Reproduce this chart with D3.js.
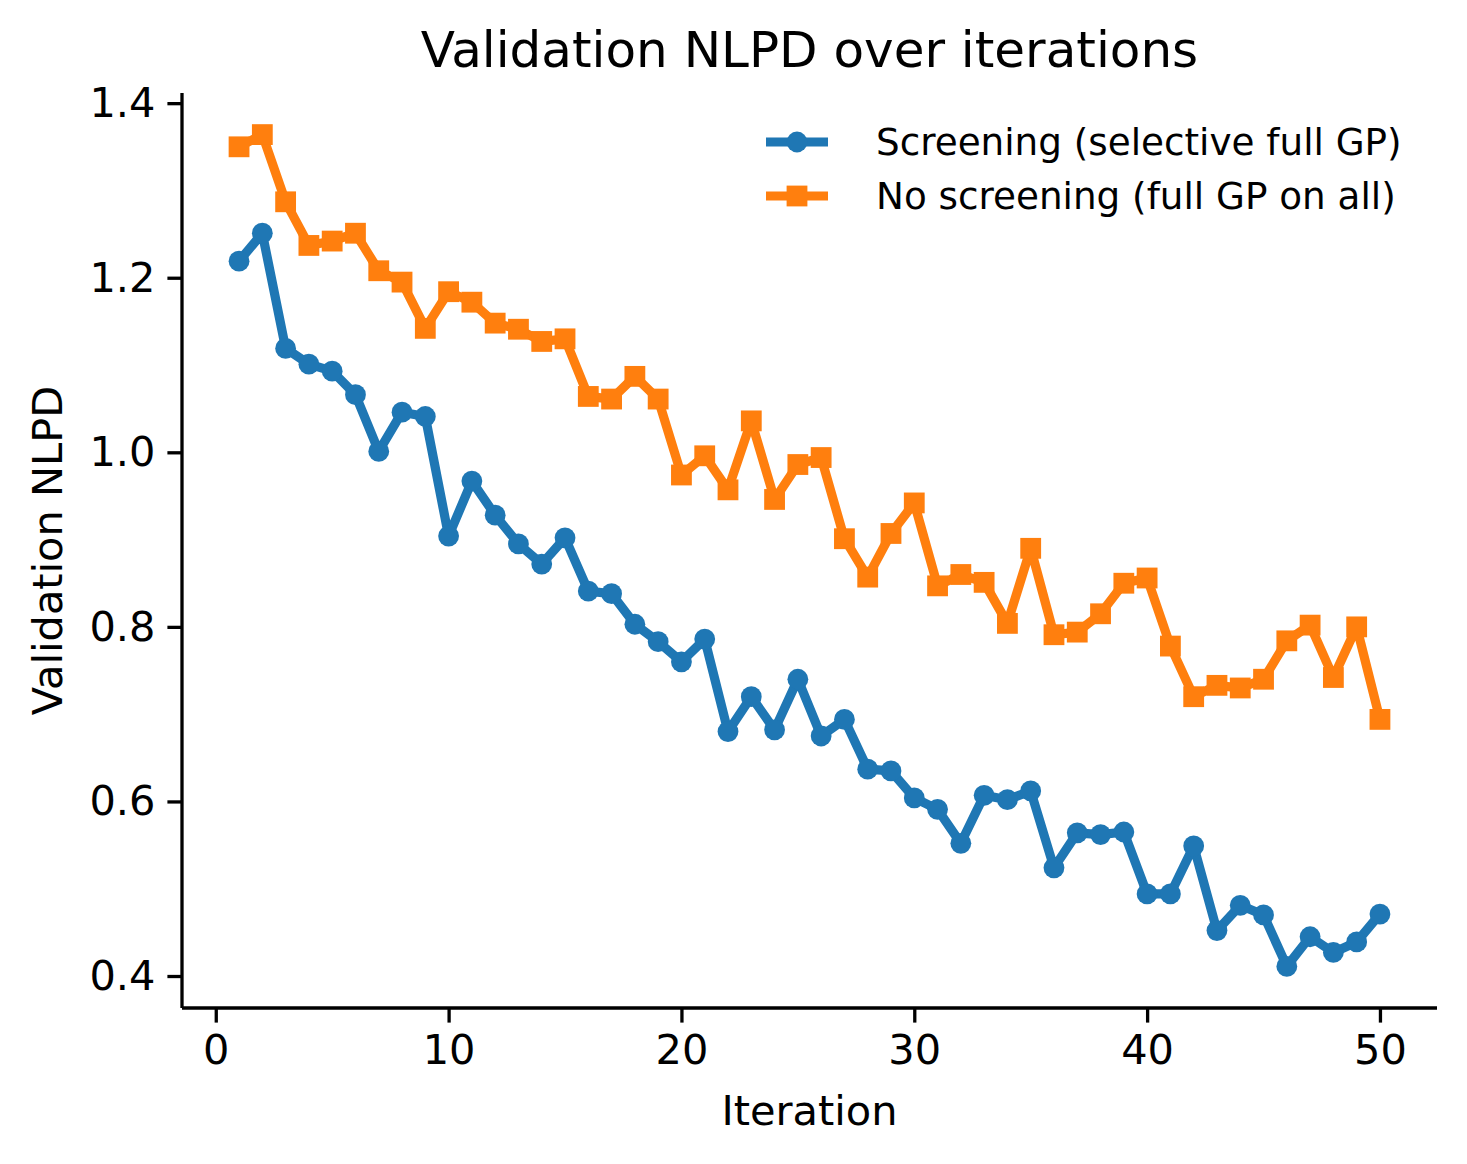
<!DOCTYPE html>
<html>
<head>
<meta charset="utf-8">
<script src="https://cdn.jsdelivr.net/npm/d3@7"></script>
<style>
	body { margin: 0; background: #fff; }
	svg text { font-family: 'DejaVu Sans', sans-serif; fill: #000; }
</style>
</head>
<body>
<div id="graph"></div>
<script>
const iterations = d3.range(1, 51);

const screening = [
	1.219, 1.251, 1.119, 1.101, 1.093, 1.066, 1.001, 1.046, 1.041, 0.904,
	0.967, 0.928, 0.895, 0.872, 0.902, 0.841, 0.838, 0.803, 0.783, 0.760,
	0.786, 0.680, 0.720, 0.682, 0.740, 0.675, 0.694, 0.637, 0.635, 0.604,
	0.591, 0.552, 0.607, 0.602, 0.612, 0.524, 0.564, 0.562, 0.565, 0.494,
	0.494, 0.549, 0.452, 0.481, 0.470, 0.411, 0.445, 0.427, 0.439, 0.471
];

const no_screening = [
	1.350, 1.364, 1.287, 1.237, 1.242, 1.251, 1.208, 1.195, 1.142, 1.184,
	1.172, 1.148, 1.141, 1.127, 1.130, 1.064, 1.061, 1.087, 1.061, 0.974,
	0.996, 0.957, 1.036, 0.946, 0.986, 0.994, 0.901, 0.857, 0.907, 0.942,
	0.847, 0.860, 0.851, 0.804, 0.890, 0.791, 0.794, 0.815, 0.850, 0.856,
	0.778, 0.720, 0.733, 0.730, 0.740, 0.784, 0.802, 0.742, 0.800, 0.694
];

const x_ticks = [0, 10, 20, 30, 40, 50];
const y_ticks = [0.4, 0.6, 0.8, 1.0, 1.2, 1.4];

const series = [
	{ label: 'Screening (selective full GP)', values: screening, color: '#1f77b4', marker: 'circle' },
	{ label: 'No screening (full GP on all)', values: no_screening, color: '#ff7f0e', marker: 'square' }
];

const width = 1467;
const height = 1164;
const margin = { left: 182, right: 30, top: 93, bottom: 156 };

// matplotlib-style 5% margins around the data
const pad = (lo, hi) => [lo - (hi - lo) * 0.05, hi + (hi - lo) * 0.05];
const allVals = screening.concat(no_screening);

const xScale = d3.scaleLinear()
	.domain(pad(d3.min(iterations), d3.max(iterations)))
	.range([margin.left, width - margin.right]);

const yScale = d3.scaleLinear()
	.domain(pad(d3.min(allVals), d3.max(allVals)))
	.range([height - margin.bottom, margin.top]);

const svg = d3.select('#graph')
	.append('svg')
	.attr('width', width)
	.attr('height', height);

const xAxis = d3.axisBottom(xScale)
	.tickValues(x_ticks)
	.tickSize(14.6)
	.tickPadding(12)
	.tickSizeOuter(0)
	.tickFormat(d3.format('d'));

const yAxis = d3.axisLeft(yScale)
	.tickValues(y_ticks)
	.tickSize(14.6)
	.tickPadding(12)
	.tickSizeOuter(0)
	.tickFormat(d3.format('.1f'));

const gx = svg.append('g')
	.attr('transform', `translate(0, ${height - margin.bottom})`)
	.call(xAxis);

const gy = svg.append('g')
	.attr('transform', `translate(${margin.left}, 0)`)
	.call(yAxis);

[gx, gy].forEach(g => {
	g.select('.domain').attr('stroke', '#000').attr('stroke-width', 3.3);
	g.selectAll('.tick line').attr('stroke', '#000').attr('stroke-width', 3.3);
	g.selectAll('.tick text')
		.style('font-family', "'DejaVu Sans', sans-serif")
		.style('font-size', '41.5px')
		.attr('fill', '#000');
});

// stretch domains to the full axes box like matplotlib spines
gx.select('.domain').attr('d', `M${margin.left},0H${width - margin.right}`);
gy.select('.domain').attr('d', `M0,${margin.top}V${height - margin.bottom}`);

const line = d3.line()
	.x((d, i) => xScale(iterations[i]))
	.y(d => yScale(d));

series.forEach(s => {
	svg.append('path')
		.datum(s.values)
		.attr('fill', 'none')
		.attr('stroke', s.color)
		.attr('stroke-width', 9.2)
		.attr('stroke-linejoin', 'round')
		.attr('stroke-linecap', 'square')
		.attr('d', line);

	if (s.marker === 'circle') {
		svg.selectAll(null)
			.data(s.values)
			.enter()
			.append('circle')
			.attr('cx', (d, i) => xScale(iterations[i]))
			.attr('cy', d => yScale(d))
			.attr('r', 10.4)
			.attr('fill', s.color);
	} else {
		svg.selectAll(null)
			.data(s.values)
			.enter()
			.append('rect')
			.attr('x', (d, i) => xScale(iterations[i]) - 10.4)
			.attr('y', d => yScale(d) - 10.4)
			.attr('width', 20.8)
			.attr('height', 20.8)
			.attr('fill', s.color);
	}
});

svg.append('text')
	.attr('x', (margin.left + width - margin.right) / 2)
	.attr('y', 67)
	.style('text-anchor', 'middle')
	.style('font-size', '50px')
	.text('Validation NLPD over iterations');

svg.append('text')
	.attr('x', (margin.left + width - margin.right) / 2)
	.attr('y', 1125)
	.style('text-anchor', 'middle')
	.style('font-size', '41.5px')
	.text('Iteration');

svg.append('text')
	.attr('transform', `translate(62, ${(margin.top + height - margin.bottom) / 2}) rotate(-90)`)
	.style('text-anchor', 'middle')
	.style('font-size', '41.5px')
	.text('Validation NLPD');

// legend
const legend = svg.append('g')
	.attr('transform', 'translate(766, 142)');

series.forEach((s, i) => {
	const row = legend.append('g').attr('transform', `translate(0, ${i * 54})`);
	row.append('line')
		.attr('x1', 0).attr('x2', 62)
		.attr('y1', 0).attr('y2', 0)
		.attr('stroke', s.color)
		.attr('stroke-width', 9.2);
	if (s.marker === 'circle')
		row.append('circle').attr('cx', 31).attr('cy', 0).attr('r', 10.4).attr('fill', s.color);
	else
		row.append('rect').attr('x', 20.6).attr('y', -10.4).attr('width', 20.8).attr('height', 20.8).attr('fill', s.color);
	row.append('text')
		.attr('x', 110)
		.attr('y', 0)
		.attr('dy', '0.36em')
		.style('font-size', '37.3px')
		.text(s.label);
});
</script>
</body>
</html>
